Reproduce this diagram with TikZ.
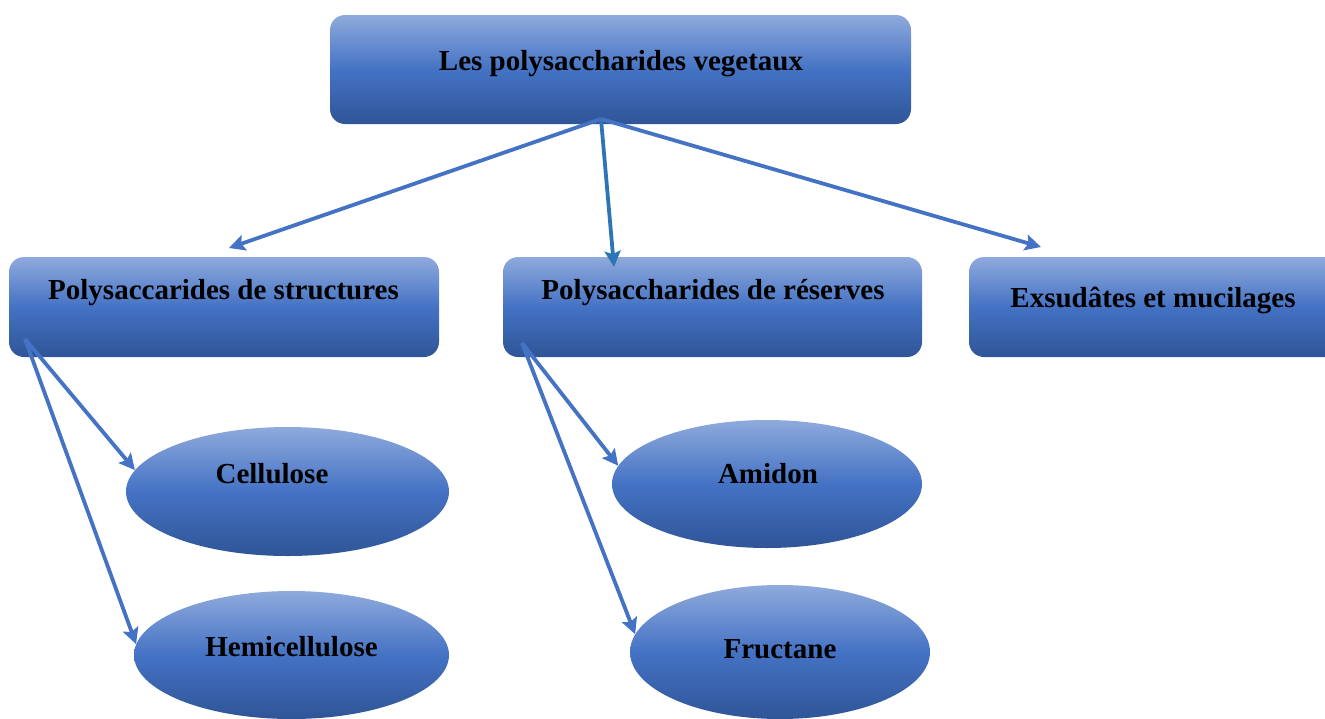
\documentclass[tikz,border=0pt]{standalone}
\usepackage{fontspec}
\setmainfont{Liberation Serif}
\usetikzlibrary{arrows.meta,shapes.geometric}
\definecolor{gtop}{HTML}{8FAADC}
\definecolor{gmid}{HTML}{4472C4}
\definecolor{gbot}{HTML}{2F5597}
\definecolor{arrowblue}{HTML}{4472C4}
\definecolor{arrowblue2}{HTML}{2E75B6}
\begin{document}
\begin{tikzpicture}[x=1pt,y=-1pt,
  grad/.style={top color=gtop, bottom color=gbot, middle color=gmid},
  box/.style={grad, rectangle, rounded corners=15pt, inner sep=0pt, draw=none},
  oval/.style={grad, ellipse, inner sep=0pt, draw=none},
  lbl/.style={anchor=base, inner sep=0pt, font=\fontsize{29}{34}\selectfont\bfseries, text=black},
  arr/.style={draw=arrowblue, line width=3.8pt, -{Stealth[length=16pt,width=16pt,inset=3pt]}}]
\useasboundingbox (0,0) rectangle (1325,718);
\begin{scope}
\clip (0,0) rectangle (1325,718);
% boxes
\node[box, minimum width=581pt, minimum height=109pt] (top) at (620.5,69.5) {};
\node[box, minimum width=430pt, minimum height=100pt] (str) at (224,307) {};
\node[box, minimum width=419pt, minimum height=100pt] (res) at (712.5,307) {};
\node[box, minimum width=376pt, minimum height=100pt] (exs) at (1157,307) {};
% ellipses
\node[oval, minimum width=323pt, minimum height=129pt] (cell) at (287.5,491.5) {};
\node[oval, minimum width=315pt, minimum height=128pt] (hemi) at (291.5,655) {};
\node[oval, minimum width=310pt, minimum height=128pt] (amid) at (767,484) {};
\node[oval, minimum width=300pt, minimum height=134pt] (fruc) at (780,652) {};
\end{scope}
% labels
\node[lbl] (toplbl) at (621,70) {Les polysaccharides vegetaux};
\node[lbl] (strlbl) at (223.5,299) {Polysaccarides de structures};
\node[lbl] (reslbl) at (713,299) {Polysaccharides de réserves};
\node[lbl] (exslbl) at (1153,307) {Exsudâtes et mucilages};
\node[lbl] (celllbl) at (272,483) {Cellulose};
\node[lbl] (hemilbl) at (291.5,656) {Hemicellulose};
\node[lbl] (amidlbl) at (768,483) {Amidon};
\node[lbl] (fruclbl) at (780,658) {Fructane};
% connector ends
\coordinate (s0) at (601,119);
\coordinate (e1) at (229,248);
\coordinate (e2) at (614,267);
\coordinate (e3) at (1041,247);
\coordinate (s1) at (25,339);
\coordinate (s2) at (522,343);
\draw[arr] (s0) -- (e1);
\draw[arr, draw=arrowblue2] (s0) -- (e2);
\draw[arr] (s0) -- (e3);
\draw[arr] (s1) -- (cell.172);
\draw[arr] (s1) -- (hemi.176);
\draw[arr] (s2) -- (amid.173);
\draw[arr] (s2) -- (fruc.173);
\end{tikzpicture}
\end{document}
